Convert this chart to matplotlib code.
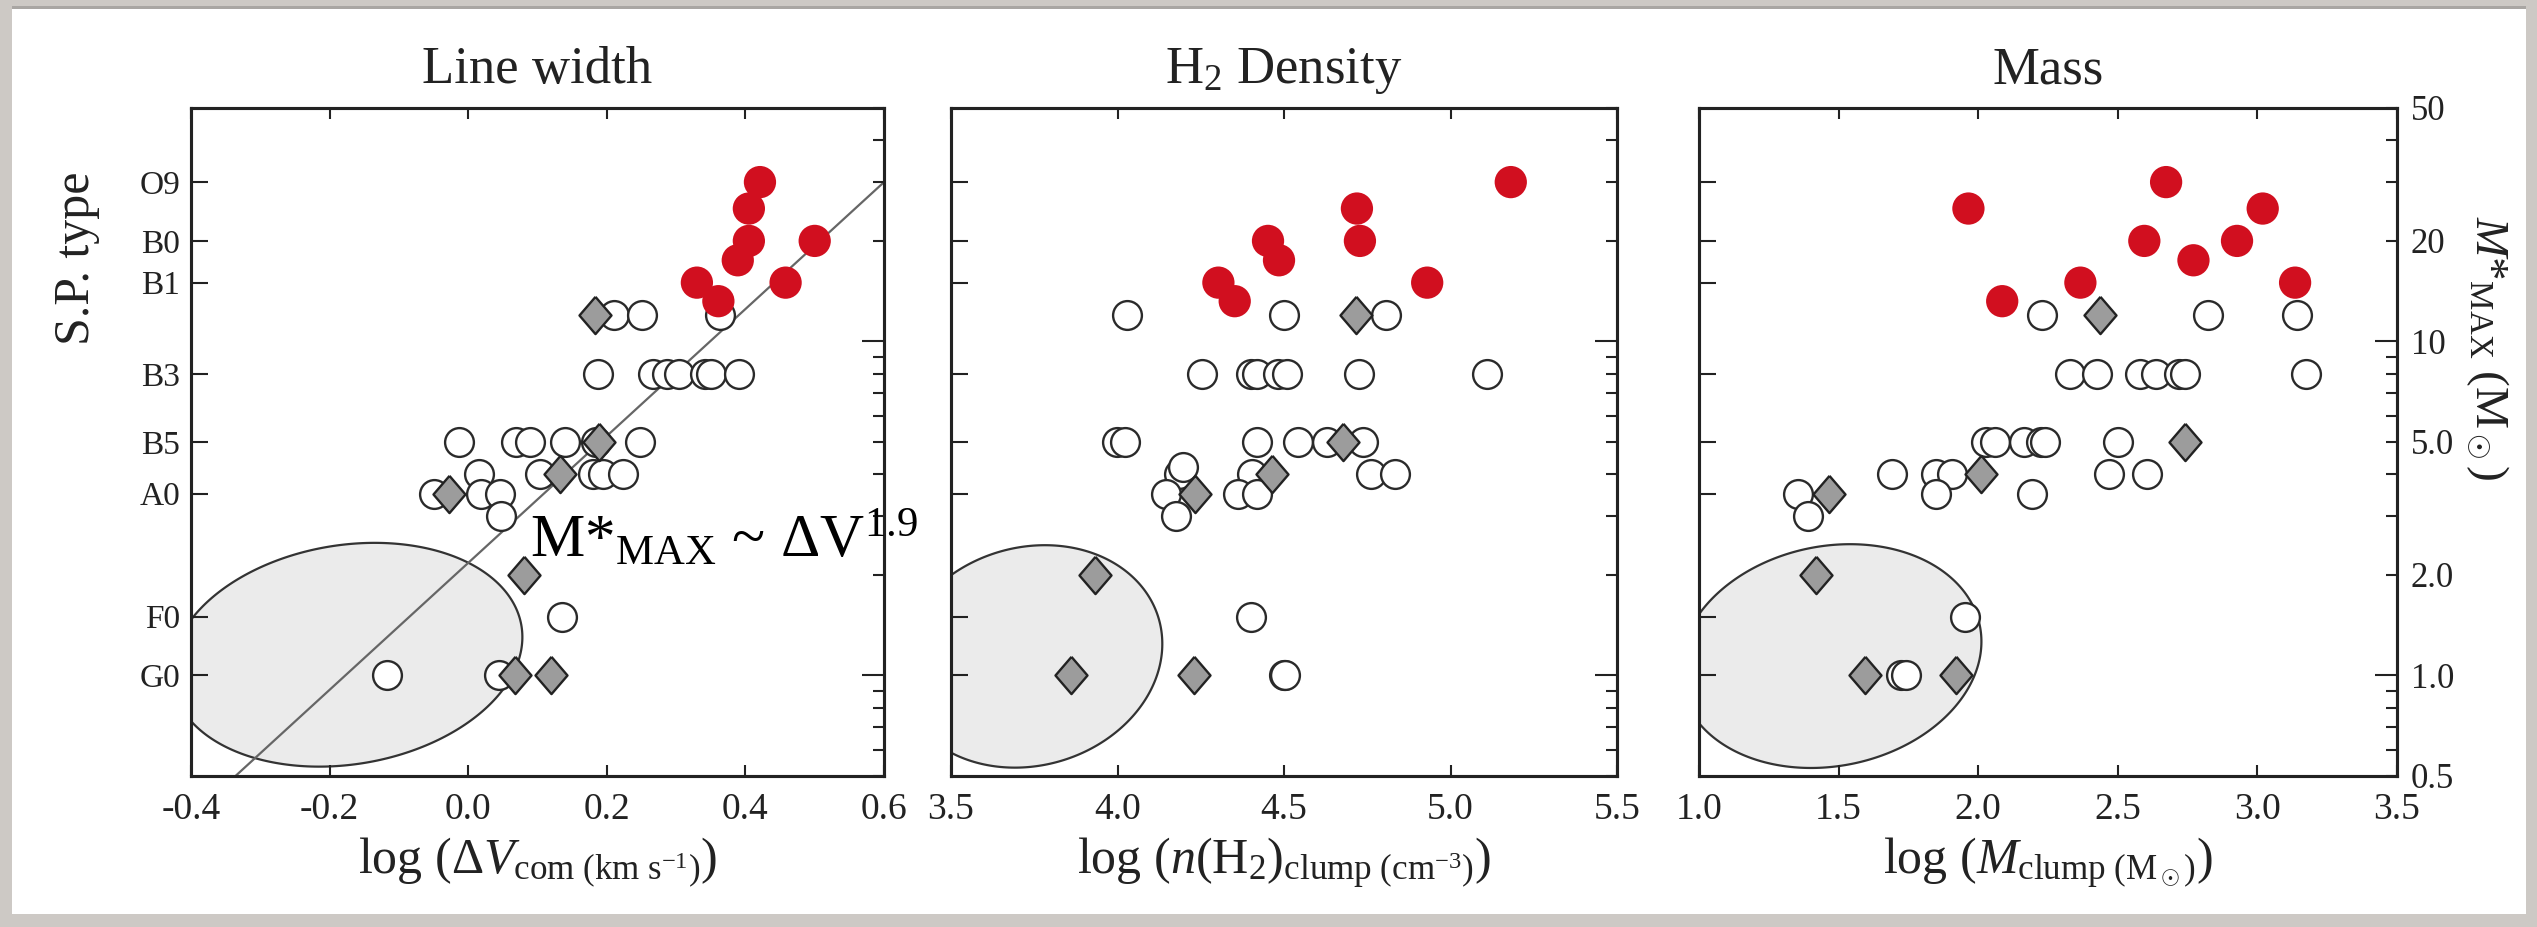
import numpy as np
import matplotlib
matplotlib.use("Agg")
import matplotlib.pyplot as plt
from matplotlib.patches import Rectangle
from matplotlib.ticker import FixedLocator, NullLocator

plt.rcParams['font.family'] = ['Liberation Serif', 'DejaVu Serif']
plt.rcParams['mathtext.fontset'] = 'custom'
plt.rcParams['mathtext.rm'] = 'Liberation Serif'
plt.rcParams['mathtext.it'] = 'Liberation Serif:italic'
plt.rcParams['mathtext.bf'] = 'Liberation Serif:bold'

# spectral type scale on the left axis (mass in Msun)
sp_types = ["O9", "B0", "B1", "B3", "B5", "A0", "F0", "G0"]
sp_mass = [30, 20, 15, 8, 5, 3.5, 1.5, 1.0]

# --- Line width panel: log(dV) vs M*max ---
lw_red_x = [0.421, 0.405, 0.405, 0.389, 0.330, 0.361, 0.458, 0.500]
lw_red_m = [30, 25, 20, 17.5, 15, 13.2, 15, 20]
lw_open_x = [0.210, 0.251, 0.364,
             0.187, 0.267, 0.287, 0.304, 0.342, 0.351, 0.391,
             -0.013, 0.069, 0.089, 0.140, 0.184, 0.248,
             0.016, 0.103, 0.180, 0.195, 0.223,
             -0.050, 0.018, 0.046,
             0.048, 0.136, -0.117, 0.044]
lw_open_m = [12, 12, 12,
             8, 8, 8, 8, 8, 8, 8,
             5, 5, 5, 5, 5, 5,
             4, 4, 4, 4, 4,
             3.5, 3.5, 3.5,
             3, 1.5, 1.0, 1.0]
lw_dia_x = [0.183, 0.189, 0.133, -0.027, 0.080, 0.067, 0.120]
lw_dia_m = [12, 5, 4, 3.5, 2, 1, 1]

# --- H2 density panel ---
nd_red_x = [5.181, 4.719, 4.728, 4.452, 4.485, 4.303, 4.352, 4.930]
nd_red_m = [30, 25, 20, 20, 17.5, 15, 13.2, 15]
nd_open_x = [4.028, 4.501, 4.805,
             4.253, 4.400, 4.420, 4.481, 4.509, 4.724, 5.111,
             3.999, 4.023, 4.420, 4.541, 4.630, 4.736,
             4.185, 4.198, 4.404, 4.760, 4.833,
             4.145, 4.363, 4.420,
             4.177, 4.400, 4.501, 4.504]
nd_open_m = [12, 12, 12,
             8, 8, 8, 8, 8, 8, 8,
             5, 5, 5, 5, 5, 5,
             4, 4.2, 4, 4, 4,
             3.5, 3.5, 3.5,
             3, 1.5, 1.0, 1.0]
nd_dia_x = [4.716, 4.676, 4.465, 4.234, 3.931, 3.861, 4.230]
nd_dia_m = [12, 5, 4, 3.5, 2, 1, 1]

# --- Mass panel ---
ms_red_x = [1.965, 2.673, 2.595, 2.771, 2.927, 3.019, 2.366, 2.086, 3.135]
ms_red_m = [25, 30, 20, 17.5, 20, 25, 15, 13.2, 15]
ms_open_x = [2.230, 2.824, 3.142,
             2.330, 2.425, 2.580, 2.637, 2.718, 2.739, 3.173,
             2.028, 2.060, 2.164, 2.224, 2.240, 2.499,
             1.693, 1.848, 1.905, 2.467, 2.605,
             1.354, 1.848, 2.192,
             1.392, 1.954, 1.725, 1.740]
ms_open_m = [12, 12, 12,
             8, 8, 8, 8, 8, 8, 8,
             5, 5, 5, 5, 5, 5,
             4, 4, 4, 4, 4,
             3.5, 3.5, 3.5,
             3, 1.5, 1.0, 1.0]
ms_dia_x = [2.436, 2.739, 2.011, 1.467, 1.418, 1.594, 1.920]
ms_dia_m = [12, 5, 4, 3.5, 2, 1, 1]

# low-mass region ellipses: centre x, semi-axis x, shear, centre log M, semi-axis log M
ellipses = [(-0.175, 0.25, 0.04, 0.062, 0.335),
            (3.737, 0.395, 0.045, 0.057, 0.333),
            (1.471, 0.536, 0.07, 0.058, 0.335)]

fit_slope = 1.9
fit_const = 0.337

panels = [
    dict(title="Line width", xlim=(-0.4, 0.6), xticks=[-0.4, -0.2, 0.0, 0.2, 0.4, 0.6],
         xlabel=r"log $(\Delta V_{\mathrm{com\ (km\ s^{-1})}})$",
         red=(lw_red_x, lw_red_m), opn=(lw_open_x, lw_open_m), dia=(lw_dia_x, lw_dia_m)),
    dict(title=r"H$_2$ Density", xlim=(3.5, 5.5), xticks=[3.5, 4.0, 4.5, 5.0, 5.5],
         xlabel=r"log $(n(\mathrm{H_2})_{\mathrm{clump\ (cm^{-3})}})$",
         red=(nd_red_x, nd_red_m), opn=(nd_open_x, nd_open_m), dia=(nd_dia_x, nd_dia_m)),
    dict(title="Mass", xlim=(1.0, 3.5), xticks=[1.0, 1.5, 2.0, 2.5, 3.0, 3.5],
         xlabel=r"log $(M_{\mathrm{clump\ (M_\odot)}})$",
         red=(ms_red_x, ms_red_m), opn=(ms_open_x, ms_open_m), dia=(ms_dia_x, ms_dia_m)),
]

diamond = [(0, 1), (0.86, 0), (0, -1), (-0.86, 0), (0, 1)]

W, H = 2537, 927
boxes = [(191, 884), (951, 1617), (1699, 2397)]
top_px, bot_px = 108, 776

fig = plt.figure(figsize=(W / 100, H / 100), dpi=100, facecolor="#cdc9c5")
fig.patches.append(Rectangle((12 / W, 13 / H), 2514 / W, 905 / H, transform=fig.transFigure,
                             facecolor="white", edgecolor="none", zorder=-5))
fig.patches.append(Rectangle((12 / W, 918 / H), 2514 / W, 3 / H, transform=fig.transFigure,
                             facecolor="#a9a6a3", edgecolor="none", zorder=-5))

txt = "#222222"
for i, (p, (l, r)) in enumerate(zip(panels, boxes)):
    ax = fig.add_axes([l / W, (H - bot_px) / H, (r - l) / W, (bot_px - top_px) / H])
    ax.set_yscale("log")
    ax.set_xlim(*p["xlim"])
    ax.set_ylim(0.5, 50)

    cx, a, s, cy, b = ellipses[i]
    t = np.linspace(0, 2 * np.pi, 300)
    ax.fill(cx + a * np.cos(t) + s * np.sin(t), 10 ** (cy + b * np.sin(t)),
            facecolor="#ebebeb", edgecolor="#333333", lw=1.6, zorder=1)

    if i == 0:
        xx = np.array(p["xlim"])
        ax.plot(xx, 10 ** (fit_slope * xx + fit_const), color="#666666", lw=1.6, zorder=2)

    ax.scatter(*p["opn"], s=430, facecolor="white", edgecolor="#2a2a2a", lw=1.7, zorder=3)
    ax.scatter(*p["dia"], s=720, marker=diamond, facecolor="#9c9c9c", edgecolor="#222222",
               lw=1.7, zorder=4)
    ax.scatter(*p["red"], s=540, facecolor="#d10f1f", edgecolor="none", zorder=5)

    ax.set_xticks(p["xticks"])
    ax.set_xticklabels([f"{v:.1f}" for v in p["xticks"]])
    ax.tick_params(axis="x", direction="in", top=True, length=8, width=1.5,
                   labelsize=27, pad=12, colors=txt)
    ax.yaxis.set_minor_locator(NullLocator())
    ax.set_yticks(sp_mass)
    ax.set_yticklabels(sp_types if i == 0 else [""] * len(sp_types))
    ax.tick_params(axis="y", direction="in", length=12, width=1.5, labelsize=24, pad=8,
                   colors=txt)
    ax.set_title(p["title"], fontsize=38, pad=18, color=txt)
    ax.set_xlabel(p["xlabel"], fontsize=36, labelpad=6, color=txt)

    ax2 = ax.twinx()
    ax2.set_yscale("log")
    ax2.set_ylim(0.5, 50)
    ax2.yaxis.set_major_locator(FixedLocator([1, 10]))
    ax2.yaxis.set_minor_locator(FixedLocator([0.5, 0.6, 0.7, 0.8, 0.9, 2, 3, 4, 5, 6, 7, 8, 9,
                                              20, 30, 40, 50]))
    if i == 2:
        ax2.set_yticklabels(["1.0", "10"])
        ax2.set_yticklabels(["0.5", "", "", "", "", "2.0", "", "", "5.0", "", "", "", "",
                             "20", "", "", "50"], minor=True)
        ax2.set_ylabel(r"$M$*$_{\mathrm{MAX}}$ (M$_\odot$)", fontsize=34, rotation=270,
                       va="center", color=txt)
        ax2.yaxis.set_label_coords(1.13, 0.64)
    else:
        ax2.set_yticklabels([])
        ax2.set_yticklabels([], minor=True)
    ax2.tick_params(axis="y", which="major", direction="in", length=16, width=1.5,
                    labelsize=25, pad=10, colors=txt)
    ax2.tick_params(axis="y", which="minor", direction="in", length=8, width=1.5,
                    labelsize=25, pad=10, colors=txt)

    for a_ in (ax, ax2):
        for sp in a_.spines.values():
            sp.set_linewidth(2.2)
            sp.set_color("#222222")

    if i == 0:
        ax.set_ylabel("S.P. type", fontsize=36, va="center", color=txt)
        ax.yaxis.set_label_coords(-0.165, 0.775)

fig.text(530 / W, 1 - 558 / H, r"M*$_{\mathrm{MAX}}$ ~ $\Delta$V$^{1.9}$", fontsize=44,
         va="baseline", ha="left", color="black", zorder=10)

fig.savefig("out.png", dpi=100, facecolor=fig.get_facecolor())
